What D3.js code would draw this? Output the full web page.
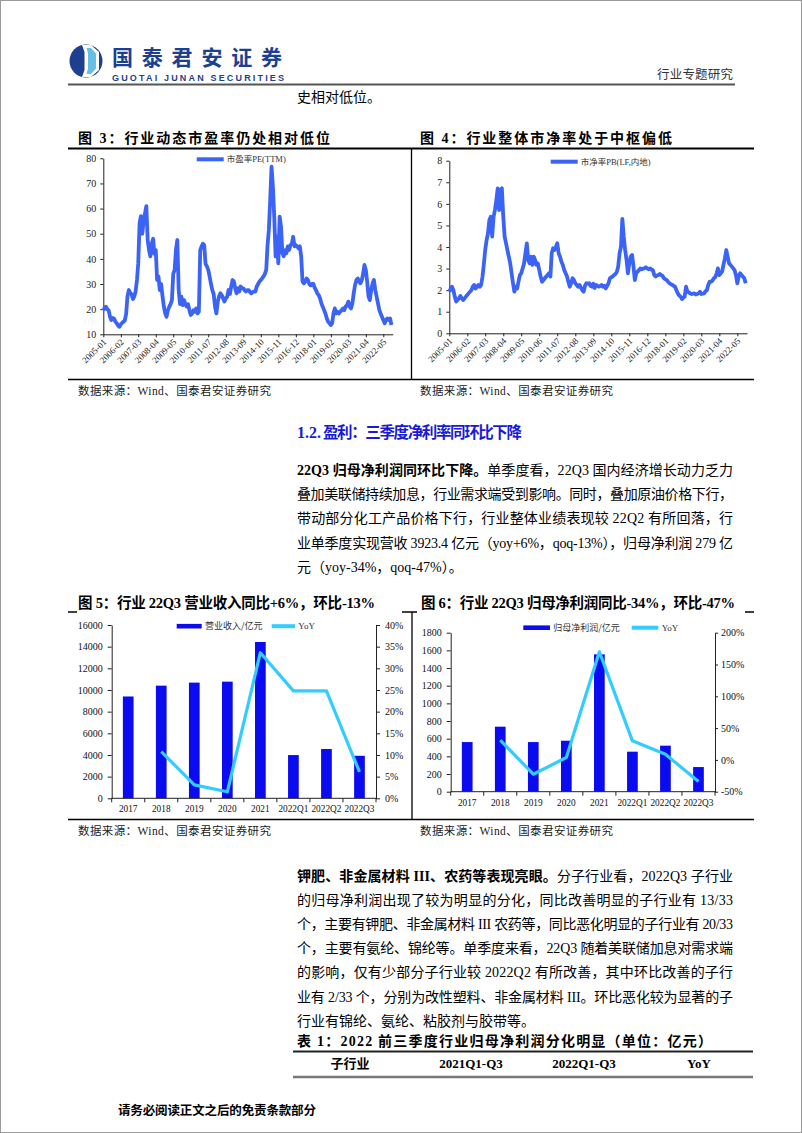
<!DOCTYPE html>
<html><head><meta charset="utf-8">
<script src="https://cdn.jsdelivr.net/npm/d3@7"></script>
<style>body{margin:0;background:#fff}svg{display:block}</style>
</head><body>
<script>
// ---------------- DATA ----------------
const tickLabels=["2005-01","2006-02","2007-03","2008-04","2009-05","2010-06","2011-07","2012-08","2013-09","2014-10","2015-11","2016-12","2018-01","2019-02","2020-03","2021-04","2022-05"];
const seriesStart="2005-01";
const peValues=[19.5,20.5,21,20,19.6,17,15.7,16.5,16.3,15,14.4,13.5,
13,14,14.5,15,15.5,18,25,27.6,26.5,26,24,25,
27,31.6,38,54,57,50,55,58,61,47.5,43.5,41,
46,48,42,43.5,31.6,33,27.6,30,25,21,18.3,17,
19.6,21,22,23.6,34,35.6,43.5,47.5,27.6,22,25,21.6,
23.6,22,21,22,19.6,17.7,18.3,19.6,19,20.3,18.3,19,
43.5,45,46,45.5,38,37,35.6,33,30,27.6,26,21,
18.3,23,25,26.3,25.6,24.3,23,24.3,25,27.6,26,29,
31.6,31,28.3,26.3,28.3,27,29,28.3,28.3,27.5,27,27.6,
27.6,26.8,26.3,26.8,27,27,29,30,31,31.6,32.3,33,
34,35.6,45,51.5,63.4,76.7,68.7,56.8,41,48.8,38.2,56.8,
52.8,42.2,41,43.5,42.2,45,43.5,45.5,46,48.8,45,45.5,
45,44.2,45,41,31,30.3,31,32.2,31.6,30,29.5,30,
30,28.5,27.6,26.3,25.6,24.3,22.3,21,19.6,18.3,16.3,15,
14.4,13.7,14.4,18.3,20.3,18.3,19,18.3,19,19.6,20.3,19.6,
21,21.6,23,21,20.3,22.3,26.3,29.6,31.6,32.2,31,30.3,
31.6,34.3,37.6,35.6,31,25,23.6,27.6,30.3,31.6,27.6,25,
22.3,19.6,18.3,17,15.7,14.4,15.7,16.3,15.7,16.3,13.7];
const pbValues=[1.93,2.08,2.16,2.0,1.7,1.47,1.54,1.62,1.73,1.62,1.54,1.62,
1.7,1.78,1.85,1.93,2.0,2.16,2.24,2.08,2.16,2.24,2.16,2.24,
2.63,3.24,3.86,4.32,4.63,5.25,5.4,4.48,5.4,5.71,6.18,6.72,
5.71,6.64,6.72,5.4,4.48,4.17,3.86,3.55,3.24,2.78,2.32,1.93,
2.16,2.08,2.39,2.7,2.78,3.01,3.24,3.71,4.17,3.4,3.24,3.55,
3.17,3.55,3.4,3.17,3.24,2.93,2.63,2.39,2.47,2.55,2.63,2.7,
2.78,2.63,3.71,3.94,3.86,4.0,4.17,3.71,3.55,3.32,3.17,2.93,
2.78,2.63,2.39,2.16,2.32,2.55,2.47,2.32,2.24,2.16,2.24,2.13,
2.0,1.93,2.2,2.32,2.3,2.32,2.2,2.16,2.3,2.1,2.24,2.2,
2.16,2.2,2.24,2.16,2.2,2.08,2.2,2.32,2.55,2.6,2.63,2.7,
2.75,2.86,3.09,3.71,4.0,5.3,4.48,3.86,3.4,2.78,3.24,3.55,
3.63,3.09,2.47,2.78,2.86,2.93,3.01,2.97,3.0,3.01,3.06,3.0,
2.97,3.01,2.95,2.93,2.7,2.63,2.68,2.7,2.75,2.7,2.66,2.55,
2.5,2.47,2.39,2.32,2.28,2.24,2.2,2.16,2.0,1.85,1.75,1.7,
1.59,1.65,1.7,2.16,1.93,1.9,1.85,1.82,1.84,1.85,1.8,1.82,
1.85,1.93,1.82,1.84,1.85,1.95,2.0,2.24,2.39,2.4,2.44,2.55,
2.6,2.78,3.01,2.7,2.78,2.86,3.17,3.47,3.86,3.55,3.24,3.17,
3.09,3.01,2.93,2.7,2.32,2.63,2.78,2.7,2.63,2.55,2.32];
const peTicks=[10,20,30,40,50,60,70,80];
const pbTicks=[0,1,2,3,4,5,6,7,8];

const barCategories=["2017","2018","2019","2020","2021","2022Q1","2022Q2","2022Q3"];
const revenueValues=[9400,10400,10680,10770,14430,3990,4550,3923.4];
const revenueYoY=[null,10.8,3.1,1.5,33.6,24.8,24.8,6.1];
const revenueTicks=[0,2000,4000,6000,8000,10000,12000,14000,16000];
const revenueYoYTicks=[0,5,10,15,20,25,30,35,40];
const profitValues=[562,736,562,577,1555,453,521,279];
const profitYoY=[null,31,-22.5,3.7,170,30,8.9,-34];
const profitTicks=[0,200,400,600,800,1000,1200,1400,1600,1800];
const profitYoYTicks=[-50,0,50,100,150,200];

// ---------------- SETUP ----------------
const W=802,H=1133;
const SERIF='"Liberation Serif","Times New Roman","Noto Sans CJK SC",serif';
const SANSCJK='"Noto Sans CJK SC","Liberation Sans",sans-serif';
const svg=d3.select("body").append("svg").attr("width",W).attr("height",H);
svg.append("rect").attr("width",W).attr("height",H).attr("fill","#fff");
svg.append("rect").attr("x",0.5).attr("y",0.5).attr("width",W-1).attr("height",H-1)
  .attr("fill","none").attr("stroke","#9a9a9a");

function addText(x,y,str,o={}){
  const t=svg.append("text").attr("x",x).attr("y",y)
    .style("font-family",o.family||SERIF).style("font-size",(o.size||14)+"px")
    .attr("fill",o.fill||"#000").attr("font-weight",o.weight||"normal")
    .attr("text-anchor",o.anchor||"start");
  if(o.len){t.attr("textLength",o.len).attr("lengthAdjust","spacing");}
  if(Array.isArray(str)){str.forEach(s=>t.append("tspan").attr("font-weight",s.b?"bold":"normal").text(s.t));}
  else t.text(str);
  return t;
}
function hline(x1,x2,y,w,c){svg.append("line").attr("x1",x1).attr("x2",x2).attr("y1",y).attr("y2",y).attr("stroke",c||"#000").attr("stroke-width",w||1);}
function vline(x,y1,y2,w,c){svg.append("line").attr("x1",x).attr("x2",x).attr("y1",y1).attr("y2",y2).attr("stroke",c||"#000").attr("stroke-width",w||1);}

// ---------------- HEADER ----------------
const logo=svg.append("g").attr("transform","translate(86,61)");
logo.append("circle").attr("r",16.5).attr("fill","#1d3f8f");
logo.append("path").attr("d","M-4,-16 L5,-16 L13,-9 L13,9 L5,16 L-4,16 L-1.5,9 L-1.5,-9 Z").attr("fill","#fff");
logo.append("path").attr("d","M0.5,-13 L5,-13 L10,-7.5 L10,7.5 L5,13 L0.5,13 L2,7.5 L2,-7.5 Z").attr("fill","#67bfe6");
addText(112,65,"国泰君安证券",{size:21,weight:"bold",fill:"#1d3f8f",family:SANSCJK,len:170});
addText(112,80.5,"GUOTAI JUNAN SECURITIES",{size:9,weight:"bold",fill:"#1d3f8f",family:'"Liberation Sans",Arial,sans-serif',len:172});
addText(657,79,"行业专题研究",{size:12.5,fill:"#333",family:SANSCJK,len:76});
hline(68,735,84.5,2,"#555");
addText(297,102,"史相对低位。",{size:14,family:SERIF});

// ---------------- ROW 1 FRAMES ----------------
addText(78,143,"图 3：行业动态市盈率仍处相对低位",{size:14,weight:"bold",len:252});
addText(420,143,"图 4：行业整体市净率处于中枢偏低",{size:14,weight:"bold",len:252});
hline(68,754,148.5,1.8);
hline(68,754,379.5,1.3);
vline(411.5,148.5,379.5,1.3);
addText(78,395,"数据来源：Wind、国泰君安证券研究",{size:11.5,len:193,fill:"#222"});
addText(420,395,"数据来源：Wind、国泰君安证券研究",{size:11.5,len:193,fill:"#222"});

const parseYM=d3.timeParse("%Y-%m");
function drawTimeChart(c){
  const start=parseYM(seriesStart);
  const lastTick=parseYM(tickLabels[tickLabels.length-1]);
  const dates=c.values.map((v,i)=>d3.timeMonth.offset(start,i));
  const endDate=d3.timeMonth.offset(start,c.values.length);
  const x0=d3.scaleTime().domain([start,lastTick]).range([c.x0,c.x1]);
  const x=d3.scaleTime().domain([start,endDate]).range([c.x0,x0(endDate)]);
  const y=d3.scaleLinear().domain(c.yDomain).range([c.yBot,c.yTop]);
  const g=svg.append("g");
  const ya=g.append("g").attr("transform",`translate(${c.x0},0)`)
    .call(d3.axisLeft(y).tickValues(c.yTicks).tickFormat(d3.format("d")).tickSize(3).tickPadding(4).tickSizeOuter(0));
  const xa=g.append("g").attr("transform",`translate(0,${c.yBot})`)
    .call(d3.axisBottom(x).tickValues(tickLabels.map(parseYM)).tickFormat(d3.timeFormat("%Y-%m")).tickSize(3).tickSizeOuter(0));
  xa.selectAll("text").attr("x",0).attr("y",0).attr("dy","0.35em")
    .attr("transform","translate(1,6) rotate(-45)").style("text-anchor","end");
  [ya,xa].forEach(a=>{a.attr("font-family",SERIF).attr("font-size",10);
    a.selectAll("path,line").attr("stroke","#222");a.selectAll("text").attr("fill","#222");});
  xa.attr("font-size",9);
  g.append("path").datum(c.values)
    .attr("fill","none").attr("stroke","#3b63f5").attr("stroke-width",3.8)
    .attr("stroke-linejoin","round")
    .attr("d",d3.line().x((d,i)=>x(dates[i])).y(d=>y(d)));
  g.append("line").attr("x1",c.lx).attr("x2",c.lx+27).attr("y1",c.ly).attr("y2",c.ly)
    .attr("stroke","#3b63f5").attr("stroke-width",4);
  addText(c.lx+30,c.ly+3,c.legend,{size:8.5,fill:"#333"});
}
drawTimeChart({values:peValues,x0:103.3,x1:383.3,yTop:158.3,yBot:334.3,yDomain:[10,80],yTicks:peTicks,lx:196.7,ly:159.3,legend:"市盈率PE(TTM)"});
drawTimeChart({values:pbValues,x0:449.3,x1:737.3,yTop:160.7,yBot:333.3,yDomain:[0,8],yTicks:pbTicks,lx:550.7,ly:161.7,legend:"市净率PB(LF,内地)"});

// ---------------- SECTION TEXT ----------------
addText(297,438,"1.2.",{size:16,fill:"#1a1ad6",weight:"bold",family:SERIF});
addText(323,438,"盈利：三季度净利率同环比下降",{size:15.5,fill:"#1a1ad6",weight:"bold",family:SERIF,len:199});
const p1=[
 {s:[{t:"22Q3 归母净利润同环比下降。",b:1},{t:"单季度看，22Q3 国内经济增长动力乏力"}],j:1},
 {s:"叠加美联储持续加息，行业需求端受到影响。同时，叠加原油价格下行，",j:1},
 {s:"带动部分化工产品价格下行，行业整体业绩表现较 22Q2 有所回落，行",j:1},
 {s:"业单季度实现营收 3923.4 亿元（yoy+6%，qoq-13%），归母净利润 279 亿",j:1},
 {s:"元（yoy-34%，qoq-47%）。",j:0}];
p1.forEach((l,i)=>addText(297,475+i*24.2,l.s,{size:14,len:l.j?436:null}));

// ---------------- ROW 2 FRAMES ----------------
hline(68,754,612,1.3);
svg.append("rect").attr("x",77).attr("y",590).attr("width",325).attr("height",25).attr("fill","#fff");
svg.append("rect").attr("x",417).attr("y",590).attr("width",328).attr("height",25).attr("fill","#fff");
addText(78,608,"图 5：行业 22Q3 营业收入同比+6%，环比-13%",{size:14.5,weight:"bold",len:297});
addText(421,608,"图 6：行业 22Q3 归母净利润同比-34%，环比-47%",{size:14.5,weight:"bold",len:314});
hline(68,754,819.5,1.3);
vline(412,612,819.5,1.3);
addText(78,835,"数据来源：Wind、国泰君安证券研究",{size:11.5,len:193,fill:"#222"});
addText(420,835,"数据来源：Wind、国泰君安证券研究",{size:11.5,len:193,fill:"#222"});

function drawBarChart(c){
  const band=d3.scaleBand().domain(barCategories).range([c.x0,c.x1]).paddingInner(0.676).paddingOuter(0.338);
  const yL=d3.scaleLinear().domain([c.leftTicks[0],c.leftTicks[c.leftTicks.length-1]]).range([c.yBot,c.yTop]);
  const yR=d3.scaleLinear().domain([c.rightTicks[0],c.rightTicks[c.rightTicks.length-1]]).range([c.yBot,c.yTop]);
  const g=svg.append("g");
  g.selectAll("rect.bar").data(c.bars).join("rect").attr("class","bar")
    .attr("x",(d,i)=>band(barCategories[i])).attr("width",band.bandwidth())
    .attr("y",d=>yL(d)).attr("height",d=>c.yBot-yL(d)).attr("fill","#0b0bf0");
  const la=g.append("g").attr("transform",`translate(${c.x0},0)`)
    .call(d3.axisLeft(yL).tickValues(c.leftTicks).tickFormat(d3.format("d")).tickSize(4).tickPadding(5).tickSizeOuter(0));
  const ra=g.append("g").attr("transform",`translate(${c.x1},0)`)
    .call(d3.axisRight(yR).tickValues(c.rightTicks).tickFormat(d=>d+"%").tickSize(c.rTick).tickPadding(c.rPad).tickSizeOuter(0));
  const ba=g.append("g").attr("transform",`translate(0,${c.yBot})`)
    .call(d3.axisBottom(band).tickSize(0).tickPadding(7.4).tickSizeOuter(0));
  ba.select(".domain").attr("d",`M${c.x0},0H${c.x1}`);
  ba.selectAll(".bound").data(d3.range(barCategories.length+1)).join("line").attr("class","bound")
    .attr("x1",i=>c.x0+i*band.step()).attr("x2",i=>c.x0+i*band.step()).attr("y1",0).attr("y2",4);
  [la,ra,ba].forEach(a=>{a.attr("font-family",SERIF).attr("font-size",10);
    a.selectAll("path,line").attr("stroke","#222");a.selectAll("text").attr("fill","#111");});
  ba.attr("font-size",9.3);
  g.append("path").datum(c.yoy).attr("fill","none").attr("stroke","#33ccff").attr("stroke-width",3.2)
    .attr("stroke-linejoin","round")
    .attr("d",d3.line().defined(d=>d!=null).x((d,i)=>band(barCategories[i])+band.bandwidth()/2).y(d=>yR(d)));
  g.append("rect").attr("x",c.lg[0]).attr("y",c.ly-2.3).attr("width",c.lg[1]-c.lg[0]).attr("height",4.6).attr("fill","#0b0bf0");
  addText(c.lg[2],c.ly+3,c.barLabel,{size:9,fill:"#333",family:SANSCJK});
  g.append("line").attr("x1",c.lg[3]).attr("x2",c.lg[4]).attr("y1",c.ly).attr("y2",c.ly).attr("stroke","#33ccff").attr("stroke-width",4);
  addText(c.lg[5],c.ly+3.2,"YoY",{size:9,fill:"#333"});
}
drawBarChart({x0:111.7,x1:376,yTop:625,yBot:798.3,bars:revenueValues,yoy:revenueYoY,leftTicks:revenueTicks,rightTicks:revenueYoYTicks,
  rTick:4,rPad:5,ly:626.2,lg:[176.7,201.7,205,271.7,295,298.3],barLabel:"营业收入/亿元"});
drawBarChart({x0:450.7,x1:715,yTop:632.7,yBot:791.7,bars:profitValues,yoy:profitYoY,leftTicks:profitTicks,rightTicks:profitYoYTicks,
  rTick:3,rPad:3,ly:627.7,lg:[523.3,550,553.3,631.7,658.3,661.7],barLabel:"归母净利润/亿元"});

// ---------------- SECOND PARAGRAPH ----------------
const p2=[
 {s:[{t:"钾肥、非金属材料 III、农药等表现亮眼。",b:1},{t:"分子行业看，2022Q3 子行业"}],j:1},
 {s:"的归母净利润出现了较为明显的分化，同比改善明显的子行业有  13/33",j:1},
 {s:"个，主要有钾肥、非金属材料 III 农药等，同比恶化明显的子行业有 20/33",j:1},
 {s:"个，主要有氨纶、锦纶等。单季度来看，22Q3 随着美联储加息对需求端",j:1},
 {s:"的影响，仅有少部分子行业较 2022Q2 有所改善，其中环比改善的子行",j:1},
 {s:"业有 2/33 个，分别为改性塑料、非金属材料 III。环比恶化较为显著的子",j:1},
 {s:"行业有锦纶、氨纶、粘胶剂与胶带等。",j:0}];
p2.forEach((l,i)=>addText(297,881+i*24.1,l.s,{size:14,len:l.j?436:null}));

// ---------------- TABLE ----------------
addText(297,1046,"表 1：2022 前三季度行业归母净利润分化明显（单位：亿元）",{size:14,weight:"bold",len:415});
hline(293,753,1051.5,2,"#222");
const tableHeaders=["子行业","2021Q1-Q3","2022Q1-Q3","YoY"];
const headerX=[350,471,584,699];
tableHeaders.forEach((h,i)=>addText(headerX[i],1068,h,{size:13,weight:"bold",anchor:"middle"}));
hline(293,753,1077,2.5,"#777");

// ---------------- FOOTER ----------------
addText(118,1115,"请务必阅读正文之后的免责条款部分",{size:12.5,weight:"bold",len:198});
</script>
</body></html>
